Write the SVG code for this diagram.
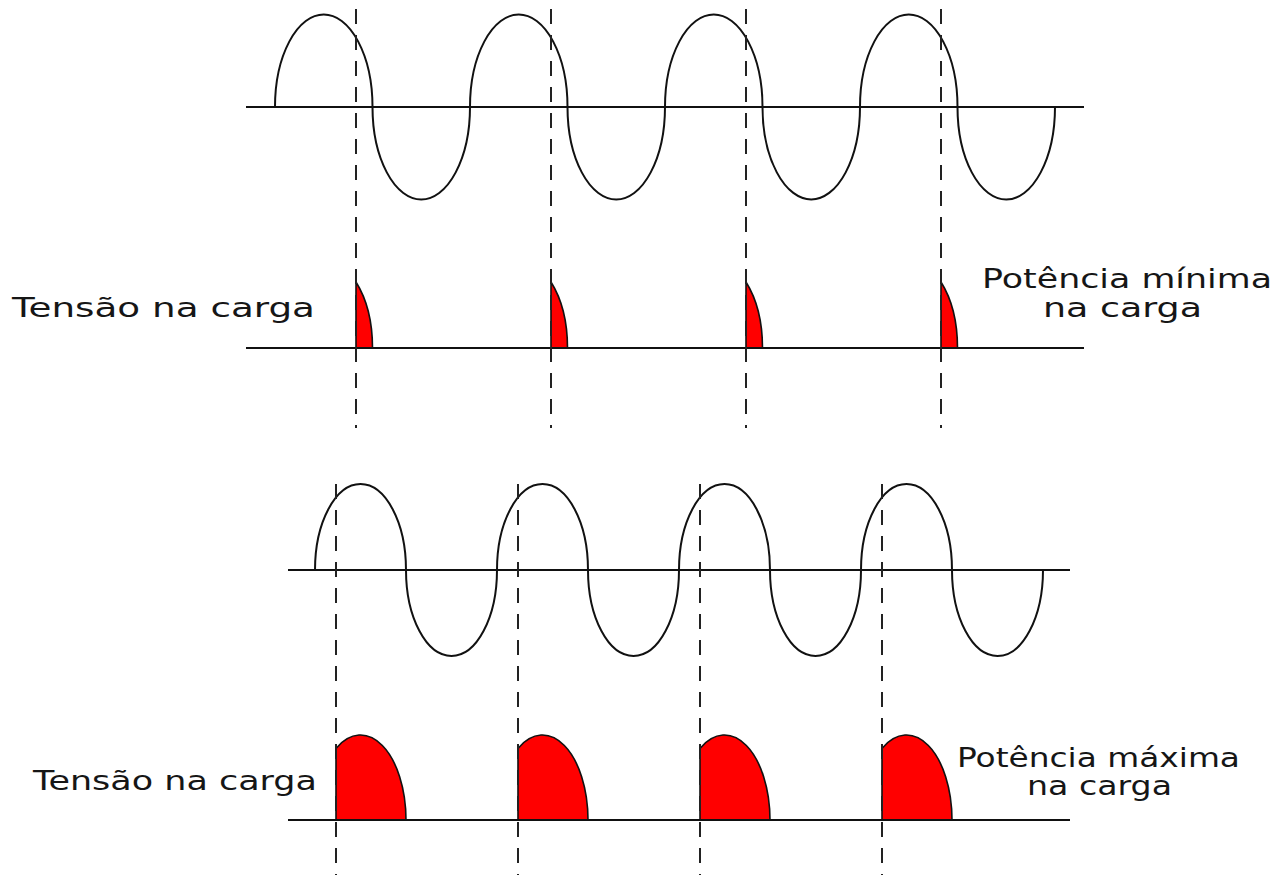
<svg xmlns="http://www.w3.org/2000/svg" width="1276" height="875" viewBox="0 0 1276 875">
  <style>
    .axis { stroke: #111; stroke-width: 2; fill: none; }
    .wave { stroke: #111; stroke-width: 2; fill: none; }
    .dash { stroke: #222; stroke-width: 2; stroke-dasharray: 15 11; fill: none; }
    .pulse { fill: #ff0000; stroke: #111; stroke-width: 1.6; stroke-linejoin: round; }
    .lbl { font-family: "DejaVu Sans", "Liberation Sans", sans-serif; font-size: 26px; fill: #161616; }
  </style>
  <rect width="1276" height="875" fill="#ffffff"/>

  <g id="top-panel">
    <g id="top-source-wave">
      <line class="axis" x1="246" y1="107" x2="1084" y2="107"/>
      <path class="wave" d="M275,107 A48.75 92.5 0 0 1 372.5,107 A48.75 92.5 0 0 0 470,107 A48.75 92.5 0 0 1 567.5,107 A48.75 92.5 0 0 0 665,107 A48.75 92.5 0 0 1 762.5,107 A48.75 92.5 0 0 0 860,107 A48.75 92.5 0 0 1 957.5,107 A48.75 92.5 0 0 0 1055,107"/>
    </g>
    <g id="top-load-voltage">
      <path class="pulse" d="M356,348 L356,282 A48.75 88 0 0 1 372.5,348 Z"/>
      <path class="pulse" d="M551,348 L551,282 A48.75 88 0 0 1 567.5,348 Z"/>
      <path class="pulse" d="M746,348 L746,282 A48.75 88 0 0 1 762.5,348 Z"/>
      <path class="pulse" d="M941,348 L941,282 A48.75 88 0 0 1 957.5,348 Z"/>
      <line class="axis" x1="246" y1="348" x2="1084" y2="348"/>
    </g>
    <g id="top-label-left">
      <text class="lbl" x="12" y="317" textLength="303" lengthAdjust="spacingAndGlyphs">Tensão na carga</text>
    </g>
    <g id="top-label-right">
      <text class="lbl" x="982" y="288" textLength="290" lengthAdjust="spacingAndGlyphs">Potência mínima</text>
      <text class="lbl" x="1043" y="317" textLength="159" lengthAdjust="spacingAndGlyphs">na carga</text>
    </g>
  </g>

  <g id="bottom-panel">
    <g id="bottom-source-wave">
      <line class="axis" x1="288" y1="570" x2="1070" y2="570"/>
      <path class="wave" d="M315,570 A45.5 86 0 0 1 406,570 A45.5 86 0 0 0 497,570 A45.5 86 0 0 1 588,570 A45.5 86 0 0 0 679,570 A45.5 86 0 0 1 770,570 A45.5 86 0 0 0 861,570 A45.5 86 0 0 1 952,570 A45.5 86 0 0 0 1043,570"/>
    </g>
    <g id="bottom-load-voltage">
      <path class="pulse" d="M336,820 L336,748.4 A45.5 85 0 0 1 406,820 Z"/>
      <path class="pulse" d="M518,820 L518,748.4 A45.5 85 0 0 1 588,820 Z"/>
      <path class="pulse" d="M700,820 L700,748.4 A45.5 85 0 0 1 770,820 Z"/>
      <path class="pulse" d="M882,820 L882,748.4 A45.5 85 0 0 1 952,820 Z"/>
      <line class="axis" x1="288" y1="820" x2="1070" y2="820"/>
    </g>
    <g id="bottom-label-left">
      <text class="lbl" x="33" y="790" textLength="284" lengthAdjust="spacingAndGlyphs">Tensão na carga</text>
    </g>
    <g id="bottom-label-right">
      <text class="lbl" x="957" y="767" textLength="283" lengthAdjust="spacingAndGlyphs">Potência máxima</text>
      <text class="lbl" x="1027" y="795" textLength="145" lengthAdjust="spacingAndGlyphs">na carga</text>
    </g>
  </g>

  <g id="connectors">
    <line class="dash" x1="356" y1="9" x2="356" y2="428"/>
    <line class="dash" x1="551" y1="9" x2="551" y2="428"/>
    <line class="dash" x1="746" y1="9" x2="746" y2="428"/>
    <line class="dash" x1="941" y1="9" x2="941" y2="428"/>
    <line class="dash" x1="336" y1="484" x2="336" y2="875"/>
    <line class="dash" x1="518" y1="484" x2="518" y2="875"/>
    <line class="dash" x1="700" y1="484" x2="700" y2="875"/>
    <line class="dash" x1="882" y1="484" x2="882" y2="875"/>
  </g>
</svg>
